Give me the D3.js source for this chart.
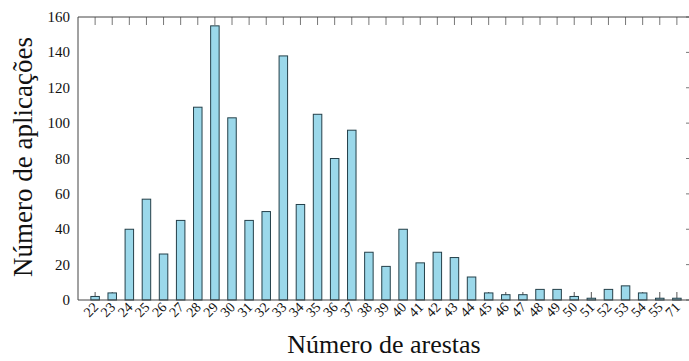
<!DOCTYPE html>
<html>
<head>
<meta charset="utf-8">
<script src="https://cdn.jsdelivr.net/npm/d3@7"></script>
<style>
  body { margin: 0; background: #fff; }
  svg text { font-family: "Times New Roman", "Liberation Serif", Times, serif; }
</style>
</head>
<body>
<div id="chart"></div>
<script>
// edge counts (categories) and number of apps per count
const arestas = ["22","23","24","25","26","27","28","29","30","31","32","33","34","35","36","37","38","39","40","41","42","43","44","45","46","47","48","49","50","51","52","53","54","55","71"];
const aplicacoes = [2,4,40,57,26,45,109,155,103,45,50,138,54,105,80,96,27,19,40,21,27,24,13,4,3,3,6,6,2,1,6,8,4,1,1];
const yTicks = [0,20,40,60,80,100,120,140,160];

const w = 689, h = 361;
const padLeft = 78, padRight = 694, padTop = 17, padBottom = 300;

const svg = d3.select("#chart").append("svg")
    .attr("width", w)
    .attr("height", h);

// index based x scale so there is a free slot on each side
const xScale = d3.scaleLinear()
    .domain([-1, arestas.length])
    .range([padLeft, padRight]);

const yScale = d3.scaleLinear()
    .domain([0, 160])
    .range([padBottom, padTop]);

const barW = 8.5;
const tickLen = 8;

// mirrored ticks on top and bottom border (drawn before the bars)
arestas.forEach(function(d, i) {
    svg.append("line")
        .attr("x1", xScale(i)).attr("x2", xScale(i))
        .attr("y1", padTop).attr("y2", padTop + tickLen)
        .attr("stroke", "#777").attr("stroke-width", 1);
    svg.append("line")
        .attr("x1", xScale(i)).attr("x2", xScale(i))
        .attr("y1", padBottom).attr("y2", padBottom - tickLen)
        .attr("stroke", "#555").attr("stroke-width", 1);
});

// right side ticks
yTicks.forEach(function(t) {
    svg.append("line")
        .attr("x1", padRight).attr("x2", padRight - tickLen)
        .attr("y1", yScale(t)).attr("y2", yScale(t))
        .attr("stroke", "#777").attr("stroke-width", 1);
});

// bars
svg.append("g")
    .selectAll("rect")
    .data(aplicacoes)
    .enter()
    .append("rect")
    .attr("x", function(d, i) { return xScale(i) - barW / 2; })
    .attr("y", function(d) { return yScale(d); })
    .attr("width", barW)
    .attr("height", function(d) { return padBottom - yScale(d); })
    .attr("fill", "#9bd8ea")
    .attr("stroke", "#24404a")
    .attr("stroke-width", 1);

// frame
svg.append("line").attr("x1", padLeft).attr("x2", w).attr("y1", padTop).attr("y2", padTop)
    .attr("stroke", "#444").attr("stroke-width", 1);
svg.append("line").attr("x1", padLeft).attr("x2", w).attr("y1", padBottom).attr("y2", padBottom)
    .attr("stroke", "#444").attr("stroke-width", 1);
svg.append("line").attr("x1", padLeft).attr("x2", padLeft).attr("y1", padTop).attr("y2", padBottom)
    .attr("stroke", "#444").attr("stroke-width", 1);

// y tick labels
svg.append("g")
    .selectAll("text")
    .data(yTicks)
    .enter()
    .append("text")
    .attr("x", 70)
    .attr("y", function(d) { return yScale(d) + 5; })
    .attr("text-anchor", "end")
    .attr("fill", "#111")
    .style("font-size", "15px")
    .text(function(d) { return d; });

// x tick labels, rotated
svg.append("g")
    .selectAll("text")
    .data(arestas)
    .enter()
    .append("text")
    .attr("text-anchor", "end")
    .attr("fill", "#111")
    .attr("transform", function(d, i) {
        return "translate(" + (xScale(i) + 4) + "," + (padBottom + 8) + ") rotate(-45)";
    })
    .style("font-size", "14px")
    .text(function(d) { return d; });

// axis titles
svg.append("text")
    .attr("text-anchor", "middle")
    .attr("fill", "#111")
    .attr("x", 384)
    .attr("y", 353)
    .style("font-size", "26px")
    .text("Número de arestas");

svg.append("text")
    .attr("text-anchor", "middle")
    .attr("fill", "#111")
    .attr("transform", "translate(32,157) rotate(-90)")
    .style("font-size", "27px")
    .text("Número de aplicações");
</script>
</body>
</html>
